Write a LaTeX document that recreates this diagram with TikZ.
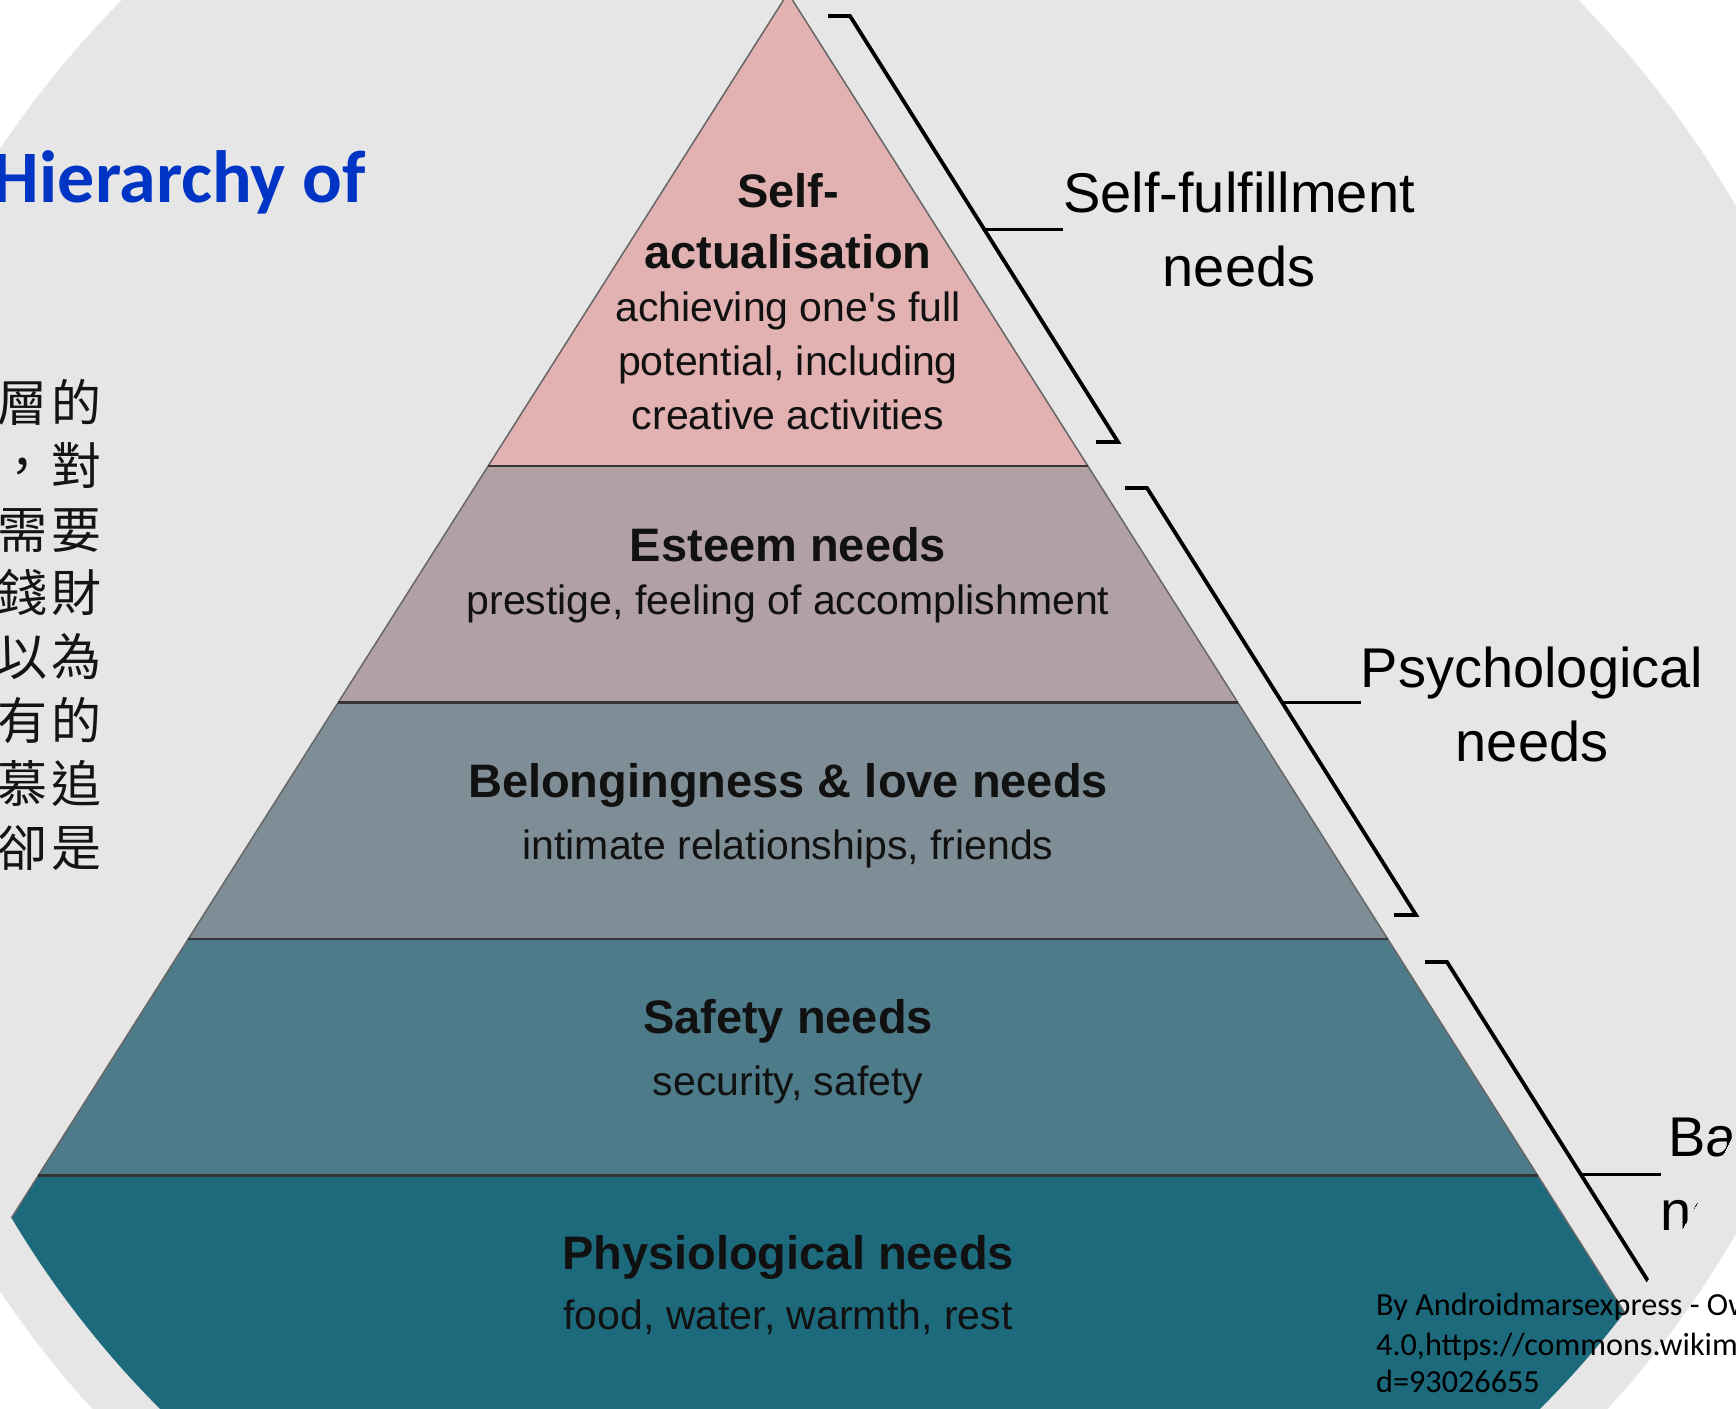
\documentclass[tikz,border=0pt]{standalone}
\usepackage{fontspec}
\setmainfont{Liberation Sans}
\newfontfamily\carlito{Carlito}
\newfontfamily\cjk{Noto Sans CJK TC}
\definecolor{bggrey}{HTML}{E6E6E6}
\definecolor{lvA}{HTML}{E2B1B2}
\definecolor{lvB}{HTML}{B1A1A4}
\definecolor{lvC}{HTML}{7F8D96}
\definecolor{lvD}{HTML}{4E7B8A}
\definecolor{lvE}{HTML}{1D6A7D}
\definecolor{sidec}{HTML}{666666}
\definecolor{sepc}{HTML}{353535}
\definecolor{txtc}{HTML}{111111}
\definecolor{zhc}{HTML}{141414}
\definecolor{ttlblue}{RGB}{0,52,196}
\tikzset{
  ptitle/.style={font=\bfseries\fontsize{47}{56}\selectfont, anchor=base, inner sep=0pt, text=txtc},
  psub/.style={font=\fontsize{41}{50}\selectfont, anchor=base, inner sep=0pt, text=txtc},
  lab/.style={font=\fontsize{56}{66}\selectfont, anchor=base, inner sep=0pt, text=black},
  brk/.style={line width=3.8pt, line join=miter, draw=black},
  tickline/.style={line width=3pt, draw=black},
  zh/.style={font=\cjk\fontsize{50}{60}\selectfont, anchor=base east, inner sep=0pt, text=zhc},
  attr/.style={font=\carlito\fontsize{32.2}{38}\selectfont, anchor=base west, inner sep=0pt, text=black},
  ttl/.style={font=\carlito\bfseries\fontsize{74}{90}\selectfont, anchor=base east, inner sep=0pt, text=ttlblue},
  side/.style={draw=sidec, line width=1.5pt},
  sepline/.style={draw=sepc, line width=2.2pt}
}
\begin{document}
\begin{tikzpicture}[x=1pt,y=-1pt]
\useasboundingbox (0,0) rectangle (1736,1408);
\clip (0,0) rectangle (1736,1408);
\fill[white] (0,0) rectangle (1736,1408);
\fill[bggrey] (850,720) circle[radius=1024pt];

% pyramid geometry
\coordinate (apex) at (788,-7);
\coordinate (L1) at (488.1,466);   \coordinate (R1) at (1087.9,466);
\coordinate (L2) at (338.2,702.5); \coordinate (R2) at (1237.8,702.5);
\coordinate (L3) at (188.2,939);   \coordinate (R3) at (1387.8,939);
\coordinate (L4) at (38.3,1175.5); \coordinate (R4) at (1537.7,1175.5);
\coordinate (L5) at (-111.6,1412); \coordinate (R5) at (1687.6,1412);

\begin{scope}
\clip (850,720) circle[radius=975pt];
\fill[lvA] (apex) -- (R1) -- (L1) -- cycle;
\fill[lvB] (L1) -- (R1) -- (R2) -- (L2) -- cycle;
\fill[lvC] (L2) -- (R2) -- (R3) -- (L3) -- cycle;
\fill[lvD] (L3) -- (R3) -- (R4) -- (L4) -- cycle;
\fill[lvE] (L4) -- (R4) -- (R5) -- (L5) -- cycle;
\draw[side] (L5) -- (apex) -- (R5);
\draw[sepline] (L1) -- (R1);
\draw[sepline] (L2) -- (R2);
\draw[sepline] (L3) -- (R3);
\draw[sepline] (L4) -- (R4);

% pyramid texts
\node[ptitle] (t1a) at (788,207) {Self-};
\node[ptitle] (t1b) at (788,268) {actualisation};
\node[psub] (s1a) at (788,321) {achieving one\textquotesingle s full};
\node[psub] (s1b) at (788,375) {potential, including};
\node[psub] (s1c) at (788,429) {creative activities};
\node[ptitle] (t2) at (788,561) {Esteem needs};
\node[psub] (s2) at (788,614) {prestige, feeling of accomplishment};
\node[ptitle] (t3) at (788,797) {Belongingness \& love needs};
\node[psub] (s3) at (788,859) {intimate relationships, friends};
\node[ptitle] (t4) at (788,1033) {Safety needs};
\node[psub] (s4) at (788,1095) {security, safety};
\node[ptitle] (t5) at (788,1269) {Physiological needs};
\node[psub] (s5) at (788,1329) {food, water, warmth, rest};

% group labels
\node[lab] (l1a) at (1239,212) {Self-fulfillment};
\node[lab] (l1b) at (1239,286) {needs};
\node[lab] (l2a) at (1532,687) {Psychological};
\node[lab] (l2b) at (1532,761) {needs};
\node[lab] (l3a) at (1737,1156) {Basic};
\node[lab] (l3b) at (1737,1230) {needs};

% brackets
\coordinate (b1a) at (828,16);    \coordinate (b1b) at (850,16);
\coordinate (b1c) at (1118,442);  \coordinate (b1d) at (1096,442);
\coordinate (m1) at (984,229);
\coordinate (b2a) at (1125,488);  \coordinate (b2b) at (1147,488);
\coordinate (b2c) at (1416,915);  \coordinate (b2d) at (1394,915);
\coordinate (m2) at (1282,702);
\coordinate (b3a) at (1425,962);  \coordinate (b3b) at (1447,962);
\coordinate (b3c) at (1716,1389); \coordinate (b3d) at (1694,1389);
\coordinate (m3) at (1580,1174);
\draw[brk] (b1a) -- (b1b) -- (b1c) -- (b1d);
\draw[brk] (b2a) -- (b2b) -- (b2c) -- (b2d);
\draw[brk] (b3a) -- (b3b) -- (b3c) -- (b3d);
\draw[tickline] (m1) -- (m1 -| l1a.west);
\draw[tickline] (m2) -- (m2 -| l2a.west);
\draw[tickline] (m3) -- (m3 -| l3b.west);
\end{scope}

% slide texts
\node[ttl] (title) at (366,202) {Hierarchy of};
\foreach \t [count=\i] in {層\kern4pt的,，\kern4pt對,需\kern4pt要,錢\kern4pt財,以\kern4pt為,有\kern4pt的,慕\kern4pt追,卻\kern4pt是}
  \node[zh] (zh\i) at (102,{421+63.6*(\i-1)}) {\t};

\node[attr] (at1) at (1376,1315) {By Androidmarsexpress - Ow};
\node[attr] (at2) at (1376,1355) {4.0,https://commons.wikim};
\node[attr] (at3) at (1376,1392) {d=93026655};
\end{tikzpicture}
\end{document}
